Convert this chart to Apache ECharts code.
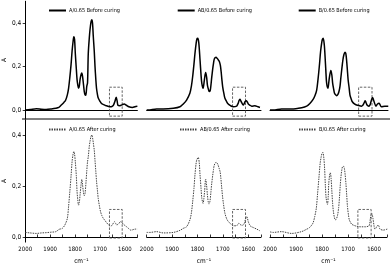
<!DOCTYPE html>
<html>
<head>
<meta charset="utf-8">
<script src="https://cdn.jsdelivr.net/npm/echarts@6/dist/echarts.min.js"></script>
<style>html,body{margin:0;padding:0;background:#fff}#c{width:390px;height:267px}</style>
</head>
<body>
<div id="c"></div>
<script>
// ---- data (wavenumber cm^-1, absorbance) ----
const names = ["A/0.65 Before curing","AB/0.65 Before curing","B/0.65 Before curing",
               "A/0.65 After curing","AB/0.65 After curing","B/0.65 After curing"];

const wnA_before  = [2000,1980,1955,1935,1916,1895,1877,1865,1858,1845,1838,1831,1826,1821,1816,1812,1808,1805,1802,1799,1795,1792,1789,1786,1783,1780,1776,1773,1770,1766,1763,1760,1757,1753,1750,1747,1743,1740,1736,1733,1730,1727,1723,1720,1717,1714,1710,1707,1700,1694,1685,1675,1665,1655,1648,1645,1640,1635,1631,1628,1620,1612,1603,1594,1584,1570,1560,1550];
const absA_before = [0.0,0.002,0.006,0.004,0.003,0.005,0.008,0.012,0.02,0.035,0.045,0.07,0.10,0.15,0.21,0.27,0.315,0.337,0.325,0.26,0.19,0.14,0.115,0.10,0.11,0.14,0.163,0.17,0.155,0.115,0.085,0.07,0.068,0.11,0.125,0.26,0.33,0.37,0.405,0.415,0.40,0.34,0.27,0.20,0.145,0.10,0.07,0.055,0.04,0.03,0.025,0.02,0.016,0.015,0.02,0.025,0.04,0.059,0.04,0.022,0.02,0.024,0.028,0.022,0.015,0.012,0.015,0.018];

const wnAB_before  = [2000,1994,1961,1935,1895,1869,1856,1843,1830,1824,1819,1814,1810,1805,1802,1799,1795,1790,1786,1783,1778,1773,1768,1764,1761,1757,1754,1750,1747,1744,1740,1737,1734,1730,1727,1723,1720,1717,1714,1710,1707,1704,1701,1696,1692,1685,1679,1670,1659,1646,1642,1639,1636,1633,1630,1626,1620,1616,1613,1608,1604,1600,1593,1587,1574,1562,1554];
const absAB_before = [0.0,0.0,0.005,0.005,0.008,0.015,0.028,0.046,0.077,0.11,0.154,0.21,0.26,0.31,0.328,0.33,0.31,0.23,0.16,0.123,0.10,0.138,0.172,0.15,0.115,0.095,0.085,0.09,0.115,0.15,0.19,0.215,0.234,0.241,0.243,0.238,0.234,0.228,0.223,0.205,0.177,0.14,0.108,0.075,0.054,0.038,0.028,0.02,0.015,0.018,0.026,0.034,0.045,0.05,0.043,0.034,0.023,0.03,0.038,0.043,0.037,0.028,0.022,0.018,0.02,0.015,0.012];

const wnB_before  = [2000,1987,1956,1917,1879,1860,1848,1835,1828,1822,1817,1812,1807,1803,1800,1797,1793,1790,1787,1784,1779,1776,1773,1768,1764,1761,1757,1754,1750,1746,1741,1737,1733,1730,1726,1722,1718,1714,1711,1708,1705,1702,1698,1695,1690,1686,1678,1670,1651,1646,1643,1640,1637,1634,1630,1623,1618,1615,1612,1609,1606,1603,1596,1590,1584,1575,1562,1549];
const absB_before = [0.0,0.0,0.005,0.005,0.011,0.018,0.03,0.05,0.068,0.092,0.14,0.2,0.27,0.308,0.325,0.33,0.30,0.246,0.18,0.123,0.10,0.125,0.154,0.182,0.16,0.123,0.095,0.077,0.07,0.066,0.072,0.085,0.11,0.146,0.19,0.23,0.255,0.266,0.26,0.23,0.185,0.138,0.10,0.069,0.05,0.038,0.028,0.023,0.018,0.022,0.028,0.036,0.043,0.035,0.023,0.018,0.025,0.038,0.05,0.058,0.05,0.038,0.018,0.028,0.031,0.015,0.018,0.018];

const wnA_after  = [2000,1980,1955,1935,1916,1895,1877,1864,1851,1841,1831,1826,1821,1816,1812,1808,1805,1802,1799,1795,1792,1789,1786,1783,1780,1776,1773,1770,1767,1763,1760,1756,1753,1750,1747,1743,1740,1736,1733,1730,1727,1723,1720,1717,1714,1710,1707,1702,1698,1693,1688,1681,1675,1668,1662,1656,1651,1646,1642,1637,1633,1628,1623,1619,1616,1611,1606,1600,1593,1585,1577,1570,1564,1557,1550];
const absA_after = [0.018,0.016,0.014,0.016,0.017,0.019,0.021,0.03,0.034,0.047,0.073,0.12,0.178,0.24,0.295,0.325,0.335,0.325,0.295,0.24,0.178,0.145,0.125,0.135,0.165,0.205,0.226,0.205,0.18,0.162,0.17,0.217,0.26,0.295,0.315,0.355,0.375,0.395,0.40,0.39,0.37,0.34,0.30,0.26,0.22,0.18,0.15,0.12,0.10,0.085,0.075,0.066,0.058,0.05,0.044,0.043,0.047,0.055,0.06,0.053,0.047,0.05,0.054,0.06,0.06,0.055,0.05,0.045,0.04,0.033,0.027,0.028,0.03,0.031,0.031];

const wnAB_after  = [2000,1987,1961,1935,1895,1869,1856,1843,1830,1824,1819,1814,1810,1806,1803,1799,1797,1793,1790,1786,1783,1778,1775,1772,1768,1764,1761,1758,1755,1751,1747,1744,1740,1737,1734,1730,1727,1723,1720,1715,1711,1708,1705,1701,1698,1692,1683,1672,1659,1646,1641,1637,1633,1629,1624,1620,1615,1612,1609,1606,1603,1600,1596,1593,1587,1580,1567,1554];
const absAB_after = [0.018,0.018,0.021,0.016,0.018,0.026,0.034,0.04,0.067,0.095,0.139,0.19,0.243,0.285,0.302,0.31,0.312,0.29,0.243,0.19,0.152,0.132,0.15,0.18,0.227,0.2,0.165,0.14,0.129,0.14,0.178,0.21,0.243,0.265,0.282,0.29,0.293,0.29,0.285,0.27,0.256,0.23,0.197,0.155,0.132,0.093,0.067,0.054,0.044,0.044,0.05,0.054,0.05,0.047,0.046,0.047,0.055,0.067,0.075,0.08,0.072,0.06,0.05,0.044,0.04,0.037,0.031,0.024];

const wnB_after  = [2000,1987,1956,1917,1879,1860,1848,1835,1828,1822,1817,1812,1807,1803,1800,1797,1793,1790,1787,1784,1779,1776,1774,1771,1768,1765,1762,1759,1756,1752,1749,1745,1740,1736,1733,1730,1727,1724,1721,1717,1714,1711,1708,1705,1702,1698,1695,1690,1686,1678,1670,1651,1632,1622,1619,1616,1614,1611,1609,1606,1604,1600,1597,1593,1590,1584,1580,1577,1565,1549];
const absB_after = [0.02,0.018,0.021,0.014,0.021,0.03,0.037,0.054,0.08,0.112,0.17,0.23,0.29,0.315,0.328,0.332,0.31,0.269,0.2,0.152,0.128,0.16,0.21,0.24,0.252,0.23,0.178,0.13,0.099,0.075,0.067,0.07,0.086,0.115,0.152,0.2,0.237,0.262,0.276,0.277,0.269,0.245,0.21,0.165,0.119,0.085,0.067,0.057,0.05,0.046,0.043,0.04,0.04,0.042,0.044,0.055,0.073,0.088,0.093,0.085,0.073,0.045,0.031,0.034,0.04,0.047,0.04,0.031,0.027,0.031];

// dashed boxes [wnFrom, wnTo, absLow, absHigh]
const boxTop    = [1662, 1611, -0.028, 0.105];
const boxBottom = [1662, 1611, -0.004, 0.108];

const xTickLabels = [2000, 1900, 1800, 1700, 1600];
const yTickLabels = [0, 0.2, 0.4];

// ---- layout ----
const FONT = '"Liberation Sans Narrow","DejaVu Sans Condensed","Liberation Sans",sans-serif';
const cols = [{left:22,width:115.4},{left:146.7,width:114.3},{left:270,width:118}];
const rows = [{top:1.25,height:117.5,min:-0.04,max:0.5},{top:119.7,height:122.4,min:-0.02,max:0.46}];
const seriesX = [wnA_before, wnAB_before, wnB_before, wnA_after, wnAB_after, wnB_after];
const seriesY = [absA_before, absAB_before, absB_before, absA_after, absAB_after, absB_after];
const legendLeft = [[48,176.7,297.7],[48,179,298]];
const legendTop = [7.5, 126.5];

const grid=[], xAxis=[], yAxis=[], series=[], legend=[];
for (let r=0;r<2;r++){
  for (let c=0;c<3;c++){
    const i=r*3+c;
    grid.push({left:cols[c].left,width:cols[c].width,top:rows[r].top,height:rows[r].height,containLabel:false});
    xAxis.push({
      type:'value', gridIndex:i, inverse:true, min:1550, max:2000, interval:50,
      axisLine:{show:true,lineStyle:{color:'#000',width:1}},
      axisTick:{show:r===1,inside:true,length:2.5,lineStyle:{color:'#000',width:0.8}},
      axisLabel:{show:r===1,fontSize:6,fontFamily:FONT,color:'#000',margin:4,
        formatter:v=> xTickLabels.indexOf(v)>=0 ? String(v) : ''},
      splitLine:{show:false},
      name: r===1 ? 'cm⁻¹' : '', nameLocation:'middle', nameGap:16,
      nameTextStyle:{fontSize:6.5,fontFamily:FONT,color:'#000'}
    });
    yAxis.push({
      type:'value', gridIndex:i, min:rows[r].min, max:rows[r].max,
      show:c===0,
      axisLine:{show:true,lineStyle:{color:'#000',width:1}},
      axisTick:{show:true,length:2.5,customValues:yTickLabels,lineStyle:{color:'#000',width:0.8}},
      axisLabel:{fontSize:6.5,fontFamily:FONT,color:'#000',margin:4,customValues:yTickLabels,
        formatter:v=>v.toFixed(1).replace('.',',')},
      splitLine:{show:false},
      name:'A', nameLocation:'middle', nameGap:15,
      nameTextStyle:{fontSize:6.5,fontFamily:FONT,color:'#000'}
    });
    const box = r===0 ? boxTop : boxBottom;
    series.push({
      name:names[i], type:'line', xAxisIndex:i, yAxisIndex:i,
      data: seriesX[i].map((x,k)=>[x, seriesY[i][k]]),
      symbol:'none', smooth:0.3, silent:true, animation:false,
      lineStyle: r===0 ? {color:'#000',width:1.5} : {color:'#444',width:1,type:[1.5,1]},
      itemStyle:{color: r===0 ? '#000' : '#444'},
      markArea:{silent:true,
        itemStyle:{color:'rgba(0,0,0,0)',borderColor:'#555',borderWidth:0.9,borderType:[2.5,1.5]},
        data:[[{xAxis:box[0],yAxis:box[2]},{xAxis:box[1],yAxis:box[3]}]]}
    });
    legend.push({
      data:[names[i]], left:legendLeft[r][c], top:legendTop[r], padding:0,
      itemWidth:17, itemHeight:6, itemGap:2, selectedMode:false,
      itemStyle:{opacity:0},
      textStyle:{fontSize:5.5,fontFamily:FONT,color:'#000',padding:[0,0,0,-2]}
    });
  }
}

const chart = echarts.init(document.getElementById('c'), null, {renderer:'canvas'});
chart.setOption({
  animation:false,
  backgroundColor:'#fff',
  grid, xAxis, yAxis, series, legend,
  graphic:[{type:'line',shape:{x1:22,y1:119,x2:390,y2:119},style:{stroke:'#000',lineWidth:1},silent:true}]
});
</script>
</body>
</html>
